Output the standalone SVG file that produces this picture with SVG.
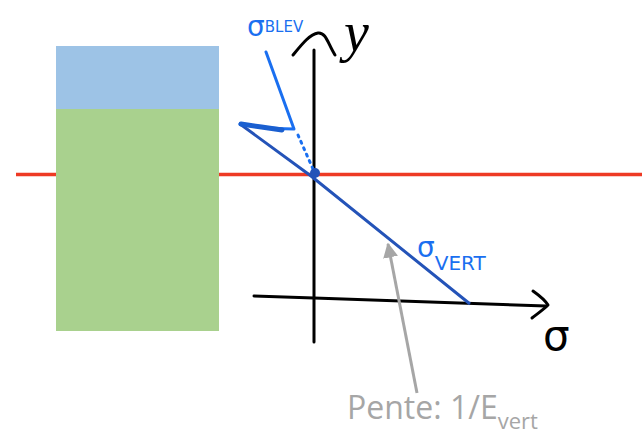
<svg xmlns="http://www.w3.org/2000/svg" width="642" height="435" viewBox="0 0 642 435">
<style>
.ax{fill:none;stroke:#000;stroke-width:3;stroke-linecap:round;stroke-linejoin:round}
.hb{fill:none;stroke:#1a6ff0;stroke-width:3;stroke-linecap:round;stroke-linejoin:round}
.hand{font-family:"DejaVu Sans",sans-serif;fill:#1a6ff0}
</style>
<defs>
<marker id="grey" viewBox="0 0 10 10" refX="9" refY="5" markerWidth="5" markerHeight="5" orient="auto" markerUnits="strokeWidth">
<path d="M0,0 L10,5 L0,10 z" fill="#a6a6a6"/>
</marker>
</defs>
<rect width="642" height="435" fill="#fff"/>
<line x1="16" y1="174.5" x2="642" y2="174.5" stroke="#ee3a24" stroke-width="3.5"/>
<g id="column">
<rect x="56" y="46" width="163" height="63" fill="#9dc3e6"/>
<rect x="56" y="109" width="163" height="222" fill="#a9d18e"/>
</g>
<g id="axes">
<line class="ax" x1="314" y1="50" x2="314" y2="342"/>
<path class="ax" d="M293,55 C302,44 310,34 318,33 C326,32 328,44 335,55"/>
<path class="ax" d="M254,296 L314,298 L546,306"/>
<path class="ax" d="M533,291 C540,296 545,300 548,305 C543,310 537,314 532,318"/>
<text x="344" y="51" font-family="'Liberation Serif',serif" font-style="italic" font-size="56" fill="#000">y</text>
<text x="543" y="350" font-family="'DejaVu Sans',sans-serif" font-size="42" fill="#000">σ</text>
</g>
<g id="connectors">
<path d="M240,124 L311,176 L470,304" fill="none" stroke="#2453b8" stroke-width="3"/>
<path class="hb" d="M240,124 C258,127 276,129 294,129 L266,52" stroke-width="3.5"/>
<path d="M241,124 C255,126 268,128 282,130" fill="none" stroke="#1a5fd0" stroke-width="5" stroke-linecap="round"/>
<path d="M298,135 L313,169" fill="none" stroke="#1a6ff0" stroke-width="3" stroke-dasharray="2 5" stroke-linecap="round"/>
<circle cx="315" cy="173" r="5" fill="#2453b8"/>
<line x1="417" y1="393" x2="388" y2="244" stroke="#a6a6a6" stroke-width="3" marker-end="url(#grey)"/>
</g>
<g id="label-blev">
<text class="hand" x="247" y="36" font-size="28">σ<tspan font-size="15" dy="-4">BLEV</tspan></text>
</g>
<g id="label-vert">
<text class="hand" x="417" y="257" font-size="28">σ<tspan font-size="20" dy="13">VERT</tspan></text>
</g>
<g id="label-pente">
<text x="347" y="419" font-family="'Open Sans','Liberation Sans',sans-serif" font-size="32" fill="#a6a6a6">Pente: 1/E<tspan font-size="22" dy="10">vert</tspan></text>
</g>
</svg>
